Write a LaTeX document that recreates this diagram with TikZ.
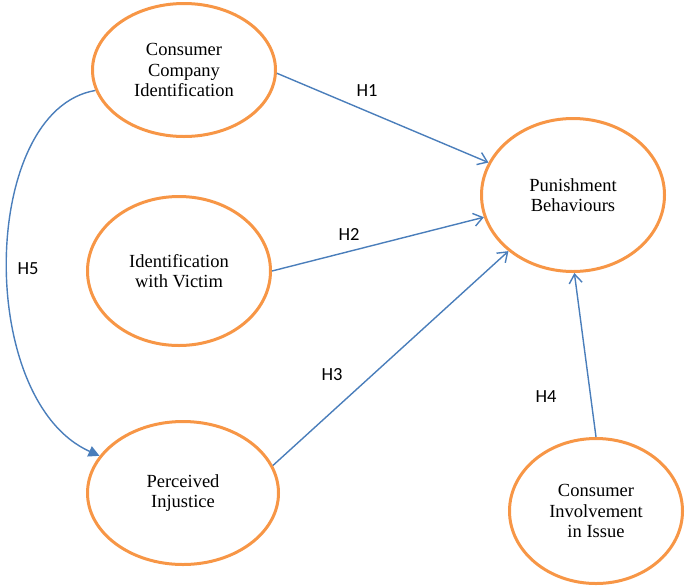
\documentclass[tikz,border=0pt]{standalone}
\usepackage{fontspec}
\newfontfamily\hlabelfont{Carlito}
\newfontfamily\constructfont{Liberation Serif}
\usetikzlibrary{shapes.geometric,arrows.meta}

\definecolor{ellorange}{HTML}{F79646}
\definecolor{arrblue}{HTML}{4A7EBB}

\tikzset{
	construct/.style={ellipse, draw=ellorange, line width=3pt, align=center,
		inner sep=0pt, font=\constructfont\fontsize{18.5}{20.5}\selectfont},
	hyp/.style={draw=arrblue, line width=1.4pt, -{Straight Barb[length=9pt,width=13pt,line width=1.4pt]}},
	hypcurve/.style={draw=arrblue, line width=1.4pt, -{Triangle[length=11pt,width=11pt]}},
	hlabel/.style={font=\hlabelfont\fontsize{18.5}{20}\selectfont}
}

\begin{document}
\begin{tikzpicture}[x=1pt,y=-1pt]
	\useasboundingbox (0,0) rectangle (685,587);

	% the constructs
	\node[construct, minimum width=183pt, minimum height=133pt] (cci) at (184,70) {Consumer\\Company\\Identification};
	\node[construct, minimum width=183pt, minimum height=149pt] (iwv) at (179,271) {Identification\\with Victim};
	\node[construct, minimum width=191pt, minimum height=143pt] (pi) at (183,493) {Perceived\\Injustice};
	\node[construct, minimum width=183pt, minimum height=153pt] (pb) at (573,195) {Punishment\\Behaviours};
	\node[construct, minimum width=173pt, minimum height=145pt] (cii) at (596,511) {Consumer\\Involvement\\in Issue};

	% hypotheses
	\draw[hyp] (cci.-2) -- (pb.159);
	\draw[hyp] (iwv.0) -- (pb.194.6);
	\draw[hyp] (pi.17.5) -- (pb.221);
	\draw[hyp] (cii.90) -- (pb.-89);
	\draw[hypcurve] (cci.193.6) .. controls (-20,110) and (-25,400) .. (pi.156.5);

	\node[hlabel] (h1) at (367,91) {H1};
	\node[hlabel] (h2) at (349,234) {H2};
	\node[hlabel] (h3) at (332,375) {H3};
	\node[hlabel] (h4) at (546,397) {H4};
	\node[hlabel] (h5) at (28,269) {H5};
\end{tikzpicture}
\end{document}
